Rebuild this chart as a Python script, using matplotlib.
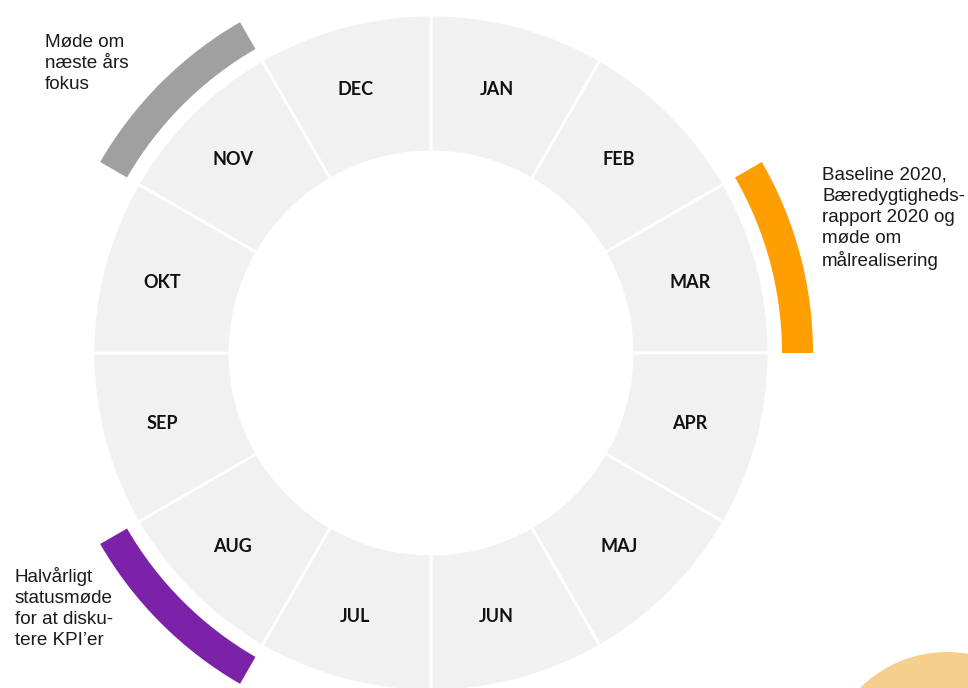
import numpy as np
import matplotlib.pyplot as plt
from matplotlib.patches import Wedge, Circle

months = ["JAN", "FEB", "MAR", "APR", "MAJ", "JUN",
          "JUL", "AUG", "SEP", "OKT", "NOV", "DEC"]

# events placed on the outer ring, tied to a month index
event_months = [2, 10, 7]
event_colors = ["#FF9E00", "#A0A0A0", "#7B22A8"]
event_texts = [
    "Baseline 2020,\nBæredygtigheds-\nrapport 2020 og\nmøde om\nmålrealisering",
    "Møde om\nnæste års\nfokus",
    "Halvårligt\nstatusmøde\nfor at disku-\ntere KPI\u2019er",
]
event_text_pos = [(822, 172), (45, 39), (15, 572)]

W, H = 968, 688
cx, cy = 431, H - 353
r_in, r_out = 201, 338
band_in, band_out = 351, 382

fig = plt.figure(figsize=(W / 100, H / 100), dpi=100)
ax = fig.add_axes([0, 0, 1, 1])
ax.set_xlim(0, W)
ax.set_ylim(0, H)
ax.set_aspect("equal")
ax.axis("off")

for i, m in enumerate(months):
    t1 = 90 - 30 * (i + 1)
    t2 = 90 - 30 * i
    ax.add_patch(Wedge((cx, cy), r_out, t1, t2, width=r_out - r_in,
                       facecolor="#F1F1F1", edgecolor="white", linewidth=2))
    a = np.deg2rad((t1 + t2) / 2)
    rm = 273
    ax.text(cx - 5 + rm * np.cos(a), cy + rm * np.sin(a), m, ha="center", va="center",
            fontsize=13, fontweight="bold", family="Lato", color="#111111")

for mi, col, txt, (tx, ty) in zip(event_months, event_colors, event_texts, event_text_pos):
    t1 = 90 - 30 * (mi + 1)
    t2 = 90 - 30 * mi
    ax.add_patch(Wedge((cx, cy), band_out, t1, t2, width=band_out - band_in,
                       facecolor=col, edgecolor="none"))
    ax.text(tx, H - ty + 5, txt, ha="left", va="top", fontsize=13.6,
            family="Liberation Sans", color="#1a1a1a", linespacing=1.3)

ax.add_patch(Circle((947, H - 775), 123, facecolor="#F6CE8D", edgecolor="none"))

fig.savefig("out.png", dpi=100)
